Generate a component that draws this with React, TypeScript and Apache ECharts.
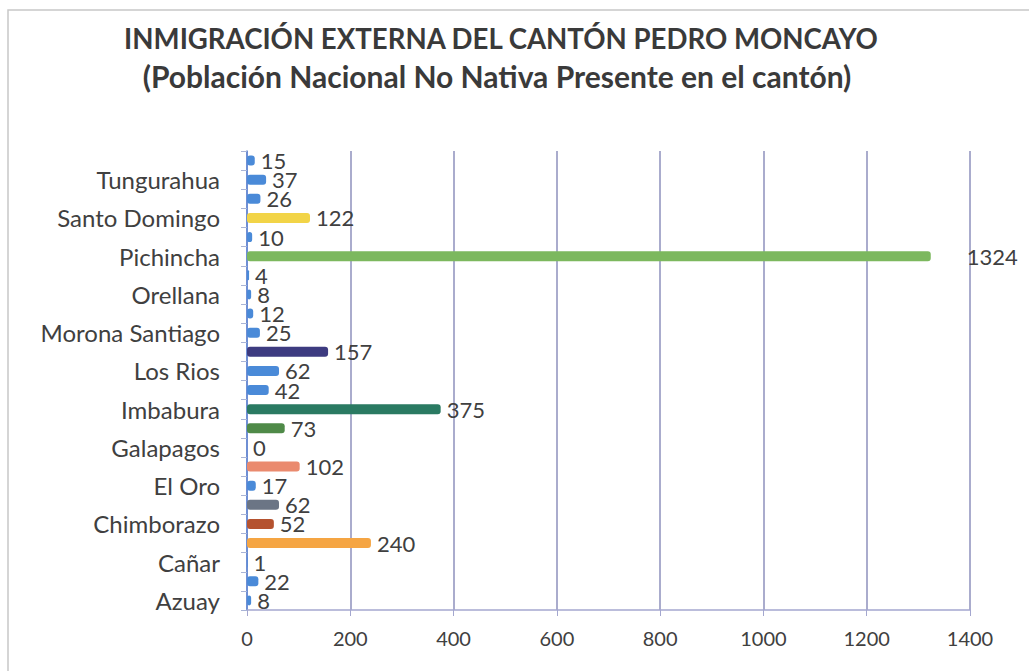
import React, { useEffect, useRef } from "react";
import * as echarts from "echarts";

const provinces = [
  "Azuay", "Bolivar", "Cañar", "Carchi", "Chimborazo", "Cotopaxi", "El Oro", "Esmeraldas",
  "Galapagos", "Guayas", "Imbabura", "Loja", "Los Rios", "Manabi", "Morona Santiago", "Napo",
  "Orellana", "Pastaza", "Pichincha", "Santa Elena", "Santo Domingo", "Sucumbios", "Tungurahua",
  "Zamora Chinchipe",
];
const population = [8, 22, 1, 240, 52, 62, 17, 102, 0, 73, 375, 42, 62, 157, 25, 12, 8, 4, 1324, 10, 122, 26, 37, 15];
const xTicks = [0, 200, 400, 600, 800, 1000, 1200, 1400];

const BLUE = "#4a8ad8";
const barColors = [
  BLUE, BLUE, BLUE, "#f5a543", "#b5522f", "#6b7585", BLUE, "#ea8a6e",
  BLUE, "#4f8a48", "#2a7a62", BLUE, BLUE, "#3d3b80", BLUE, BLUE,
  BLUE, BLUE, "#7cb85e", BLUE, "#f2d447", BLUE, BLUE, BLUE,
];

const FONT = "Lato, 'Open Sans', sans-serif";

export default function App() {
  const ref = useRef<HTMLDivElement>(null);
  useEffect(() => {
    if (!ref.current) return;
    const chart = echarts.init(ref.current, null, { renderer: "svg" });
    const maxVal = Math.max(...population);
    chart.setOption({
      animation: false,
      backgroundColor: "#ffffff",
      title: [
        {
          text: "INMIGRACIÓN EXTERNA DEL CANTÓN PEDRO MONCAYO",
          left: 496,
          top: 19,
          textAlign: "center",
          textStyle: { fontFamily: FONT, fontWeight: "bold", fontSize: 27.6, color: "#3a3a3a" },
        },
        {
          text: "(Población Nacional No Nativa Presente en el cantón)",
          left: 492,
          top: 56,
          textAlign: "center",
          textStyle: { fontFamily: FONT, fontWeight: "bold", fontSize: 30, color: "#3a3a3a" },
        },
      ],
      graphic: [
        {
          type: "rect",
          shape: { x: 8, y: 10, width: 1100, height: 800 },
          style: { fill: "none", stroke: "#c8c8c8", lineWidth: 1.5 },
          silent: true,
        },
      ],
      grid: { left: 247, right: 59, top: 151, bottom: 61, containLabel: false },
      xAxis: {
        type: "value",
        min: xTicks[0],
        max: xTicks[xTicks.length - 1],
        interval: xTicks[1] - xTicks[0],
        axisLine: { show: true, lineStyle: { color: "#a4a7cf", width: 1.5 } },
        axisTick: { show: true, length: 6, lineStyle: { color: "#a4a7cf" } },
        axisLabel: {
          fontFamily: FONT,
          fontSize: 20,
          color: "#404040",
          margin: 18,
          formatter: (v: number) => String(v),
        },
        splitLine: { show: true, lineStyle: { color: "#8e90bd", width: 1.5 } },
      },
      yAxis: {
        type: "category",
        data: provinces,
        axisLine: { show: true, lineStyle: { color: "#5b86d6", width: 1.5 } },
        axisTick: { show: true, interval: 0, length: 6, lineStyle: { color: "#a9b4d6" } },
        axisLabel: { interval: 1, fontFamily: FONT, fontSize: 24, color: "#404040", margin: 27 },
      },
      series: [
        {
          type: "bar",
          barWidth: 10,
          data: population.map((v, i) => ({
            value: v,
            itemStyle: { color: barColors[i] },
            label: v === maxVal ? { distance: 36 } : undefined,
          })),
          itemStyle: { borderRadius: 3 },
          label: {
            show: true,
            position: "right",
            distance: 6,
            fontFamily: FONT,
            fontSize: 22,
            color: "#404040",
          },
        },
      ],
    });
    return () => chart.dispose();
  }, []);
  return <div ref={ref} style={{ position: "fixed", left: 0, top: 0, width: 1029, height: 671 }} />;
}
